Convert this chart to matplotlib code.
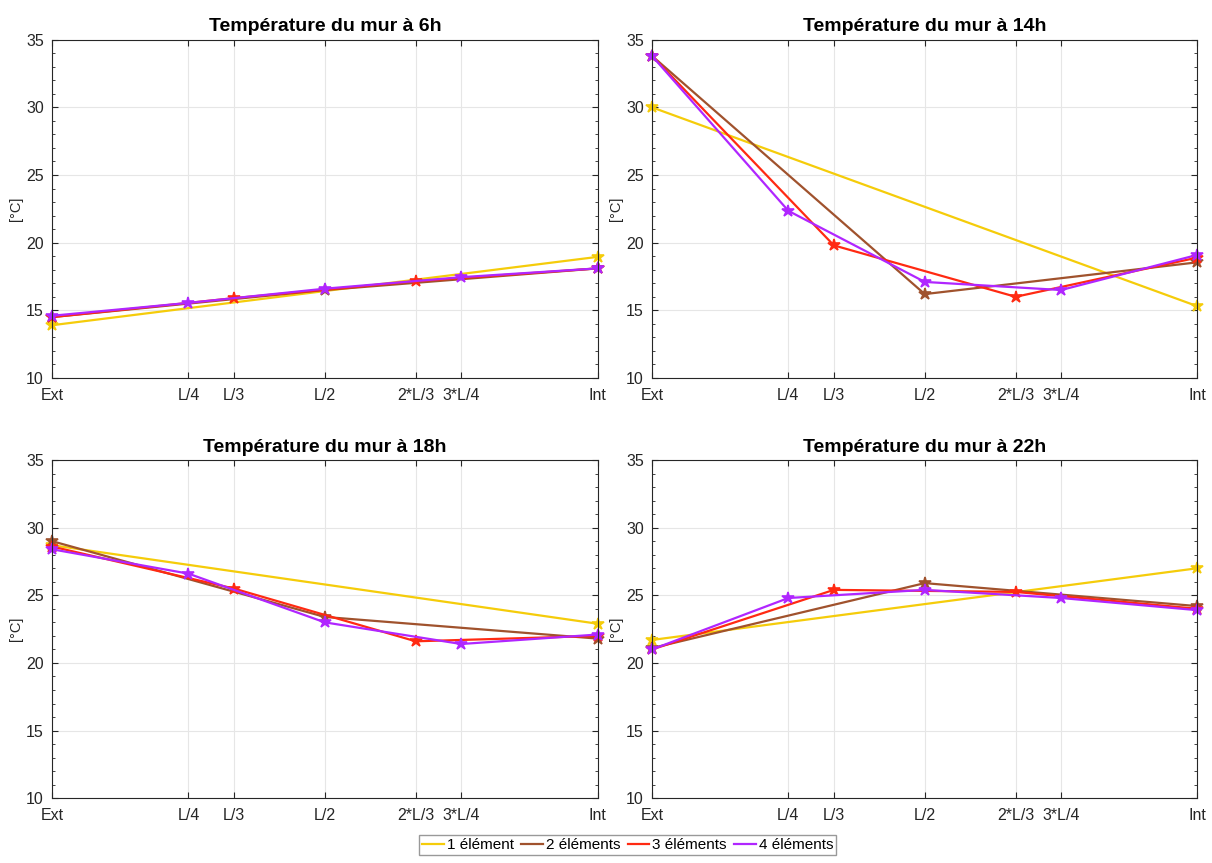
import numpy as np
import matplotlib
matplotlib.use("Agg")
import matplotlib.pyplot as plt
from matplotlib.ticker import MultipleLocator

plt.rcParams['font.family'] = ['Liberation Sans', 'DejaVu Sans']

# positions along the wall
pos_labels = ['Ext', 'L/4', 'L/3', 'L/2', '2*L/3', '3*L/4', 'Int']
pos_values = [0, 1/4, 1/3, 1/2, 2/3, 3/4, 1]

x1 = [0, 1]
x2 = [0, 1/2, 1]
x3 = [0, 1/3, 2/3, 1]
x4 = [0, 1/4, 1/2, 3/4, 1]

hours = ['6h', '14h', '18h', '22h']

# temperatures [°C] for 1, 2, 3, 4 elements
t1 = {'6h': [13.9, 18.95], '14h': [30.0, 15.3], '18h': [28.7, 22.9], '22h': [21.7, 27.0]}
t2 = {'6h': [14.5, 16.5, 18.1], '14h': [33.8, 16.2, 18.55],
      '18h': [29.0, 23.4, 21.8], '22h': [21.1, 25.9, 24.2]}
t3 = {'6h': [14.5, 15.9, 17.15, 18.1], '14h': [33.8, 19.8, 16.0, 18.9],
      '18h': [28.6, 25.5, 21.6, 22.0], '22h': [21.0, 25.4, 25.25, 24.0]}
t4 = {'6h': [14.6, 15.55, 16.6, 17.45, 18.1], '14h': [33.8, 22.35, 17.1, 16.5, 19.1],
      '18h': [28.4, 26.6, 23.0, 21.4, 22.1], '22h': [21.0, 24.8, 25.4, 24.8, 23.9]}

c_yellow = '#F5CC0A'
c_brown = '#A0522D'
c_red = '#FF2A12'
c_purple = '#B026FF'
label_colors = ['#262626', c_purple, c_red, c_brown, c_red, c_purple, '#262626']

fig = plt.figure(figsize=(12.12, 8.63), dpi=100)
boxes = [(0.043, 0.562, 0.45, 0.392), (0.538, 0.562, 0.45, 0.392),
         (0.043, 0.075, 0.45, 0.392), (0.538, 0.075, 0.45, 0.392)]

mk = dict(marker='*', ms=9, mew=1.2, clip_on=False, lw=1.6)

lines = []
for h, b in zip(hours, boxes):
    ax = fig.add_axes(b)
    ax.set_axisbelow(True)
    l1, = ax.plot(x1, t1[h], color=c_yellow, label='1 élément', **mk)
    l2, = ax.plot(x2, t2[h], color=c_brown, label='2 éléments', **mk)
    l3, = ax.plot(x3, t3[h], color=c_red, label='3 éléments', **mk)
    l4, = ax.plot(x4, t4[h], color=c_purple, label='4 éléments', **mk)
    lines = [l1, l2, l3, l4]

    ax.set_xlim(0, 1)
    ax.set_ylim(10, 35)
    ax.set_xticks(pos_values)
    ax.set_xticklabels(pos_labels, fontsize=11)
    for lab, c in zip(ax.get_xticklabels(), label_colors):
        lab.set_color(c)
    ax.yaxis.set_major_locator(MultipleLocator(5))
    ax.yaxis.set_minor_locator(MultipleLocator(1))
    ax.tick_params(axis='both', which='both', direction='in', top=True, right=True,
                   colors='#262626', labelsize=11.5)
    ax.tick_params(axis='x', pad=7)
    ax.tick_params(axis='y', pad=6)
    ax.tick_params(which='major', length=4)
    ax.tick_params(which='minor', length=2.5)
    ax.grid(True, which='major', color='#E6E6E6', lw=0.8)
    for s in ax.spines.values():
        s.set_color('#262626')
        s.set_linewidth(0.8)
    ax.set_ylabel('[°C]', fontsize=10.5, color='#262626', labelpad=2)
    ax.set_title('Température du mur à ' + h, fontsize=14, fontweight='bold', pad=6)

leg = fig.legend(handles=lines, loc='lower center', ncol=4, bbox_to_anchor=(0.518, 0.0),
                 fontsize=11, frameon=True, fancybox=False, edgecolor='#808080',
                 handlelength=1.4, handletextpad=0.2, columnspacing=0.5,
                 borderpad=0.2)
for hnd in leg.legend_handles:
    hnd.set_marker('')

fig.savefig('out.png', dpi=100)
